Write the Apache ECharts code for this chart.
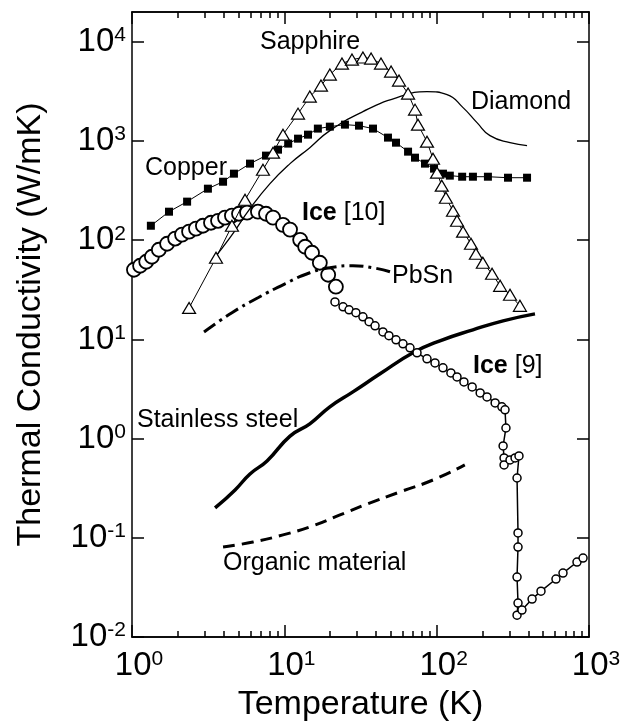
<!DOCTYPE html>
<html>
<head>
<meta charset="utf-8">
<script src="https://cdn.jsdelivr.net/npm/echarts@6/dist/echarts.min.js"></script>
<style>html,body{margin:0;padding:0;background:#fff;}#c{width:634px;height:727px;}</style>
</head>
<body>
<div id="c"></div>
<script>
// ---- data ----
const majorX = [1, 10, 100, 1000];
const minorX = [2,3,4,5,6,7,8,9,20,30,40,50,60,70,80,90,200,300,400,500,600,700,800,900];
const majorY = [0.01, 0.1, 1, 10, 100, 1000, 10000];

const copperT = [1.33,1.75,2.30,3.15,3.96,4.67,5.95,7.58,9.09,10.6,12.3,14.3,16.6,19.9,25.0,30.9,38.2,47.9,54.1,64.9,72.1,83.8,96.1,110,122,147,173,217,294,392];
const copperK = [140,194,245,331,389,469,592,713,819,942,1057,1160,1335,1397,1464,1430,1335,1083,963,782,680,592,527,469,448,437,437,437,427,427];

const sapphireT = [2.37,3.56,4.53,5.52,7.24,8.43,9.80,12.3,14.7,17.4,19.9,23.9,27.8,32.8,37.1,43.1,50.2,56.6,64.9,72.1,75.4,86.4,94.6,100.5,108,115,128,136,149,168,181,201,231,261,303,352];
const sapphireK = [20.8,66.6,140,256,514,764,1160,1890,2806,3622,4677,6040,6625,6950,6780,6040,5014,4070,3008,2074,1464,986,664,480,355,268,198,157,122,92.2,73.1,59.3,45.9,34.7,28.2,21.8];

const diamondT = [3.40,4.40,5.95,8.05,10.9,14.7,19.9,32.8,54.9,86.4,117,149,184,224,303,392];
const diamondK = [63.6,106,208,372,592,858,1274,1980,2741,3150,2940,2173,1534,1133,963,899];

const ice10T = [1.03,1.13,1.24,1.35,1.50,1.70,1.92,2.13,2.37,2.63,2.92,3.30,3.67,4.08,4.53,5.04,5.69,6.71,7.58,8.43,9.80,10.9,12.7,13.7,15.2,17.1,19.4,21.8];
const ice10K = [50.4,55.3,60.7,68.2,80.2,92.2,104,114,122,131,140,150,157,169,177,185,190,194,185,169,143,128,101,86,74.8,59.3,44.9,34.0];

const ice9T = [21.5,24.3,26.6,29.5,32.8,36.0,39.4,44.4,48.6,54.1,60.1,66.8,74.3,86.4,97.5,110,124,136,151,171,193,214,242,268,281,285,273,277,277,303,327,347,337,342,342,337,342,337,363,423,484,607,675,834,914];
const ice9K = [23.9,21.3,19.9,18.6,16.9,15.1,13.7,11.9,10.9,9.91,9.03,8.23,7.33,6.37,5.80,5.17,4.60,4.19,3.73,3.32,2.89,2.63,2.29,2.09,1.95,1.28,0.844,0.639,0.543,0.610,0.639,0.669,0.401,0.112,0.0807,0.0402,0.0220,0.0166,0.0187,0.0241,0.0290,0.0384,0.0441,0.0570,0.0625];

const pbsnT = [2.97,4.53,6.71,10.1,14.7,19.9,28.2,38.2,49.4];
const pbsnK = [11.9,18.6,26.3,36.4,47.0,52.8,55.3,52.8,48.1];

const steelT = [3.51,4.75,5.95,7.70,10.9,14.7,19.9,28.2,42.5,69.9,105,173,273,442];
const steelK = [0.200,0.304,0.440,0.596,1.06,1.41,2.09,2.96,4.50,7.33,9.68,12.5,15.4,18.1];

const organicT = [3.96,6.23,9.80,15.4,23.2,34.9,57.4,94.6,153];
const organicK = [0.0807,0.0907,0.107,0.132,0.170,0.219,0.290,0.383,0.543];

const labels = ['Sapphire','Diamond','Copper','{b|Ice} [10]','PbSn','{b|Ice} [9]','Stainless steel','Organic material'];

// ---- chart ----
const F = 'Liberation Sans, Arial, Helvetica, sans-serif';
const zip = (a, b) => a.map((v, i) => [v, b[i]]);
const powLabel = v => '{m|10}{s|' + Math.round(Math.log10(v)) + '}';
const rich = {
  m: {fontSize: 33, fontFamily: F, color: '#000', lineHeight: 34},
  s: {fontSize: 21, fontFamily: F, color: '#000', verticalAlign: 'top', lineHeight: 20}
};
const axLine = {show: true, lineStyle: {color: '#000', width: 1.5}};
function xAx(pos, vals, len, opts) {
  return Object.assign({
    type: 'log', logBase: 10, min: 1, max: 1000, position: pos,
    axisLine: axLine,
    axisTick: {show: true, inside: true, length: len, customValues: vals, lineStyle: {color: '#000', width: 1.5}},
    axisLabel: {show: false},
    splitLine: {show: false}, minorTick: {show: false}
  }, opts || {});
}
function yAx(pos, opts) {
  return Object.assign({
    type: 'log', logBase: 10, min: 0.01, max: 20000, position: pos,
    axisLine: axLine,
    axisTick: {show: true, inside: true, length: 12, customValues: majorY, lineStyle: {color: '#000', width: 1.5}},
    axisLabel: {show: false},
    splitLine: {show: false}, minorTick: {show: false}
  }, opts || {});
}

const chart = echarts.init(document.getElementById('c'), null, {renderer: 'canvas'});
const option = {
  animation: false,
  backgroundColor: '#fff',
  grid: {left: 132, right: 45, top: 12, bottom: 90, containLabel: false, outerBoundsMode: 'none'},
  xAxis: [
    xAx('bottom', majorX, 12, {
      axisLabel: {show: true, customValues: majorX, formatter: powLabel, rich: rich, margin: 12, padding: [0, 0, 0, 14]},
      name: 'Temperature (K)', nameLocation: 'middle', nameGap: 46,
      nameTextStyle: {fontSize: 34, fontFamily: F, color: '#000'}
    }),
    xAx('bottom', minorX, 6),
    xAx('top', majorX, 12),
    xAx('top', minorX, 6)
  ],
  yAxis: [
    yAx('left', {
      axisLabel: {show: true, customValues: majorY, formatter: powLabel, rich: rich, margin: 6},
      name: 'Thermal Conductivity (W/mK)', nameLocation: 'middle', nameGap: 84,
      nameTextStyle: {fontSize: 34, fontFamily: F, color: '#000'}
    }),
    yAx('right')
  ],
  series: [
    {type: 'line', name: 'Organic', data: zip(organicT, organicK), smooth: true, showSymbol: false,
     lineStyle: {color: '#000', width: 3, type: [12, 7]}},
    {type: 'line', name: 'Steel', data: zip(steelT, steelK), smooth: true, showSymbol: false,
     lineStyle: {color: '#000', width: 3.5}},
    {type: 'line', name: 'PbSn', data: zip(pbsnT, pbsnK), smooth: true, showSymbol: false,
     lineStyle: {color: '#000', width: 3, type: [14, 5, 3, 5]}},
    {type: 'line', name: 'Diamond', data: zip(diamondT, diamondK), smooth: true, showSymbol: false,
     lineStyle: {color: '#000', width: 1.3}},
    {type: 'line', name: 'Copper', data: zip(copperT, copperK), symbol: 'rect', symbolSize: 8,
     lineStyle: {color: '#000', width: 1}, itemStyle: {color: '#000'}},
    {type: 'line', name: 'Sapphire', data: zip(sapphireT, sapphireK), symbol: 'triangle', symbolSize: [13, 11],
     lineStyle: {color: '#000', width: 1}, itemStyle: {color: '#fff', borderColor: '#000', borderWidth: 1.2}},
    {type: 'line', name: 'Ice9', data: zip(ice9T, ice9K), symbol: 'circle', symbolSize: 8,
     lineStyle: {color: '#000', width: 1.5}, itemStyle: {color: '#fff', borderColor: '#000', borderWidth: 1.5}},
    {type: 'scatter', name: 'Ice10', data: zip(ice10T, ice10K), symbol: 'circle', symbolSize: 14,
     itemStyle: {color: '#fff', borderColor: '#000', borderWidth: 1.8, opacity: 1}}
  ]
};
chart.setOption(option);

// text annotations
const labelPos = [[260, 42], [471, 102], [145, 168], [302, 213], [392, 276], [473, 366], [137, 420], [223, 563]];
chart.setOption({
  graphic: labels.map((t, i) => ({
    type: 'text', x: labelPos[i][0], y: labelPos[i][1], z: 100,
    style: {
      text: t, fontSize: 25, fontFamily: F, fill: '#000', verticalAlign: 'middle', align: 'left',
      rich: {b: {fontWeight: 'bold', fontSize: 25, fontFamily: F, fill: '#000'}}
    }
  }))
});
</script>
</body>
</html>
